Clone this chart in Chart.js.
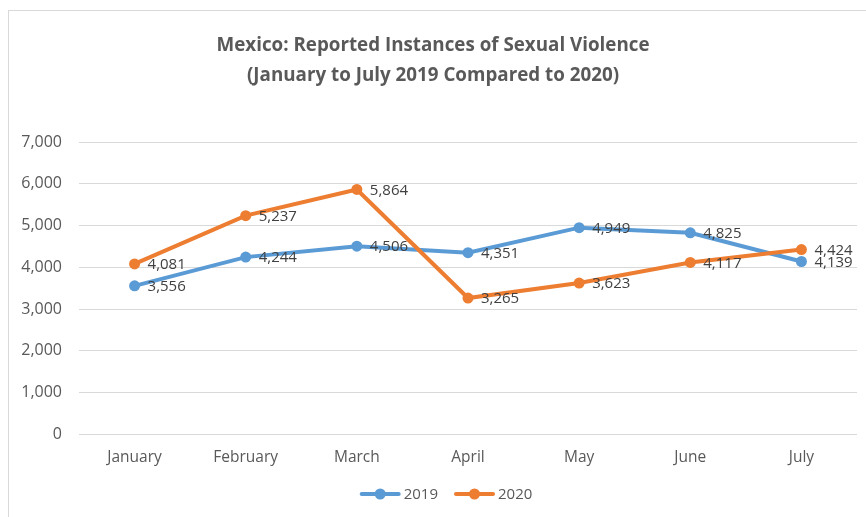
<!DOCTYPE html>
<html>
<head>
<meta charset="utf-8">
<script src="https://cdn.jsdelivr.net/npm/chart.js@4"></script>
<style>
  body { margin: 0; background: #fff; }
  .frame { position: absolute; left: 8px; top: 10px; width: 900px; height: 600px; border: 1px solid #d9d9d9; }
  .wrap { position: absolute; left: 9px; top: 11px; width: 857px; height: 506px; }
</style>
</head>
<body>
<div class="frame"></div>
<div class="wrap"><canvas id="chart"></canvas></div>
<script>
const months = ['January', 'February', 'March', 'April', 'May', 'June', 'July'];
const values2019 = [3556, 4244, 4506, 4351, 4949, 4825, 4139];
const values2020 = [4081, 5237, 5864, 3265, 3623, 4117, 4424];
const titleLines = ['Mexico: Reported Instances of Sexual Violence', '(January to July 2019 Compared to 2020)'];

const BLUE = '#5B9BD5';
const ORANGE = '#ED7D31';
const FONT = '"Open Sans", sans-serif';

// value labels to the right of each point
const valueLabels = {
  id: 'valueLabels',
  afterDatasetsDraw(chart) {
    const ctx = chart.ctx;
    ctx.save();
    ctx.font = '15px ' + FONT;
    ctx.fillStyle = '#404040';
    ctx.textAlign = 'left';
    ctx.textBaseline = 'middle';
    chart.data.datasets.forEach((ds, i) => {
      chart.getDatasetMeta(i).data.forEach((pt, j) => {
        ctx.fillText(ds.data[j].toLocaleString('en-US'), pt.x + 13, pt.y + 1);
      });
    });
    ctx.restore();
  }
};

// legend at the bottom: line with a dot, then the series name
const lineLegend = {
  id: 'lineLegend',
  afterDraw(chart) {
    const ctx = chart.ctx;
    const datasets = chart.data.datasets;
    ctx.save();
    ctx.font = '15px ' + FONT;
    const lineLen = 41, gap = 3, itemGap = 16;
    let total = 0;
    datasets.forEach((ds, i) => {
      total += lineLen + gap + ctx.measureText(ds.label).width;
      if (i < datasets.length - 1) total += itemGap;
    });
    let x = 437 - total / 2;
    const y = 483;
    datasets.forEach(ds => {
      ctx.strokeStyle = ds.borderColor;
      ctx.fillStyle = ds.borderColor;
      ctx.lineWidth = 4;
      ctx.lineCap = 'round';
      ctx.beginPath(); ctx.moveTo(x + 2, y); ctx.lineTo(x + lineLen - 2, y); ctx.stroke();
      ctx.beginPath(); ctx.arc(x + lineLen / 2, y, 5.5, 0, Math.PI * 2); ctx.fill();
      x += lineLen + gap;
      ctx.fillStyle = '#595959';
      ctx.textAlign = 'left';
      ctx.textBaseline = 'middle';
      ctx.fillText(ds.label, x, y + 1);
      x += ctx.measureText(ds.label).width + itemGap;
    });
    ctx.restore();
  }
};

const ctx = document.getElementById('chart').getContext('2d');
new Chart(ctx, {
  type: 'line',
  data: {
    labels: months,
    datasets: [
      {
        label: '2019',
        data: values2019,
        borderColor: BLUE,
        backgroundColor: BLUE,
        borderWidth: 4,
        pointRadius: 5.5,
        pointHoverRadius: 5.5,
        pointBorderWidth: 0,
        order: 1
      },
      {
        label: '2020',
        data: values2020,
        borderColor: ORANGE,
        backgroundColor: ORANGE,
        borderWidth: 4,
        pointRadius: 5.5,
        pointHoverRadius: 5.5,
        pointBorderWidth: 0,
        order: 0
      }
    ]
  },
  options: {
    responsive: true,
    maintainAspectRatio: false,
    animation: false,
    layout: { padding: { right: 9, bottom: 44 } },
    plugins: {
      title: {
        display: true,
        text: titleLines,
        color: '#595959',
        font: { family: FONT, size: 18.8, weight: 'bold', lineHeight: '30px' },
        padding: { top: 20, bottom: 51 }
      },
      legend: { display: false },
      tooltip: { enabled: false }
    },
    scales: {
      x: {
        offset: true,
        grid: { display: false },
        border: { display: false },
        ticks: { color: '#595959', font: { family: FONT, size: 15.5 }, padding: 6, maxRotation: 0 }
      },
      y: {
        min: 0,
        max: 7000,
        afterFit(scale) { scale.width = 70; },
        grid: { color: '#d9d9d9', drawTicks: false },
        border: { display: false },
        ticks: {
          stepSize: 1000,
          color: '#595959',
          font: { family: FONT, size: 16 },
          padding: 17,
          callback: v => v.toLocaleString('en-US')
        }
      }
    }
  },
  plugins: [valueLabels, lineLegend]
});
</script>
</body>
</html>
